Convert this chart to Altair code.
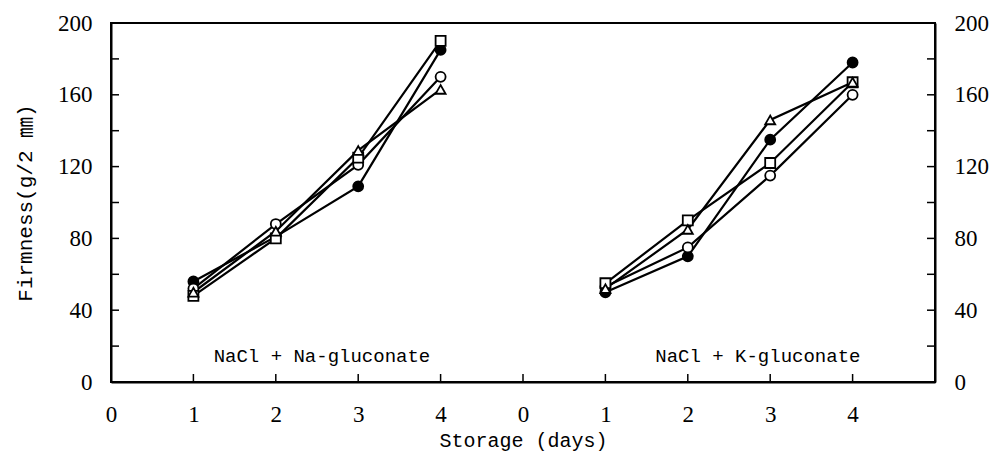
import altair as alt
import pandas as pd

# ---- data ----
days = [1, 2, 3, 4]
groups = ["NaCl + Na-gluconate", "NaCl + K-gluconate"]
series = ["filled circle", "open circle", "open square", "open triangle"]

na_values = {
    "filled circle": [56, 81, 109, 185],
    "open circle": [52, 88, 121, 170],
    "open square": [48, 80, 125, 190],
    "open triangle": [50, 84, 129, 163],
}
k_values = {
    "filled circle": [50, 70, 135, 178],
    "open circle": [53, 75, 115, 160],
    "open square": [55, 90, 122, 167],
    "open triangle": [52, 85, 146, 167],
}

x_ticks = [0, 1, 2, 3, 4, 5, 6, 7, 8, 9]
y_labels = [0, 40, 80, 120, 160, 200]
y_minor = [20, 40, 60, 80, 100, 120, 140, 160, 180]
x_inner_ticks = [1, 2, 3, 4, 5, 6, 7, 8, 9]
group_offset = [0, 5]

annot_text = ["NaCl + Na-gluconate", "NaCl + K-gluconate"]
annot_x = [2.56, 7.85]
annot_y = [11, 11]

rows = []
for g, vals, off in [(groups[0], na_values, group_offset[0]), (groups[1], k_values, group_offset[1])]:
    for s in series:
        for d, v in zip(days, vals[s]):
            rows.append({"group": g, "series": s, "key": g + s, "x": d + off, "value": v})
df = pd.DataFrame(rows)

W, H = 824, 359
FONT_TXT = "Liberation Mono, Noto Sans CJK JP"
FONT_NUM = "Liberation Serif"

xscale = alt.Scale(domain=[0, 10], nice=False, zero=False)
yscale = alt.Scale(domain=[0, 200], nice=False)

x_axis = alt.Axis(
    values=x_ticks,
    labelExpr="datum.value < 5 ? datum.value : datum.value - 5",
    ticks=False, grid=False, labelPadding=21, labelFlush=False,
    labelFont=FONT_NUM, labelFontSize=23, labelColor="black",
    title="Storage (days)", titleFont=FONT_TXT, titleFontSize=20,
    titleFontWeight="normal", titleColor="black", titlePadding=4,
    domainColor="black", domainWidth=2,
)
y_axis_left = alt.Axis(
    values=y_labels, ticks=False, grid=False, labelPadding=19,
    labelFont=FONT_NUM, labelFontSize=23, labelColor="black",
    title="Firmness(g/2 ㎜)", titleFont=FONT_TXT, titleFontSize=21,
    titleFontWeight="normal", titleColor="black",
    titleX=-86, titleY=H / 2, titleAngle=-90, titleAlign="center", titleBaseline="middle",
    domainColor="black", domainWidth=2,
)
y_axis_right = alt.Axis(
    orient="right", values=y_labels, ticks=False, grid=False, labelPadding=19,
    labelFont=FONT_NUM, labelFontSize=23, labelColor="black", title=None,
    domainColor="black", domainWidth=2,
)

lines = alt.Chart(df).mark_line(color="black", strokeWidth=2.2).encode(
    x=alt.X("x:Q", scale=xscale, axis=x_axis),
    y=alt.Y("value:Q", scale=yscale, axis=y_axis_left),
    detail="key:N",
)

points = alt.Chart(df).mark_point(filled=True, stroke="black", strokeWidth=1.8, opacity=1).encode(
    x=alt.X("x:Q", scale=xscale),
    y=alt.Y("value:Q", scale=yscale, axis=None),
    shape=alt.Shape("series:N", scale=alt.Scale(domain=series, range=["circle", "circle", "square", "triangle-up"]), legend=None),
    fill=alt.Fill("series:N", scale=alt.Scale(domain=series, range=["black", "white", "white", "white"]), legend=None),
    size=alt.value(100),
)

ymin_df = pd.DataFrame({"v": y_minor})
left_ticks = alt.Chart(ymin_df).mark_rule(color="black", strokeWidth=1.5).encode(
    x=alt.value(0), x2=alt.value(8),
    y=alt.Y("v:Q", scale=yscale, axis=None),
)
right_ticks = alt.Chart(ymin_df).mark_rule(color="black", strokeWidth=1.5).encode(
    x=alt.value(W - 8), x2=alt.value(W),
    y=alt.Y("v:Q", scale=yscale, axis=y_axis_right),
)
xt_df = pd.DataFrame({"d": x_inner_ticks})
bottom_ticks = alt.Chart(xt_df).mark_rule(color="black", strokeWidth=1.5).encode(
    x=alt.X("d:Q", scale=xscale),
    y=alt.value(H), y2=alt.value(H - 8),
)

ann_df = pd.DataFrame({"t": annot_text, "x": annot_x, "y": annot_y})
labels = alt.Chart(ann_df).mark_text(font=FONT_TXT, fontSize=19, color="black", baseline="alphabetic", align="center").encode(
    x=alt.X("x:Q", scale=xscale),
    y=alt.Y("y:Q", scale=yscale, axis=None),
    text="t:N",
)

chart = alt.layer(lines, points, left_ticks, bottom_ticks, labels, right_ticks).resolve_scale(
    y="independent"
).properties(
    width=W, height=H,
    autosize=alt.AutoSizeParams(type="none"),
    padding={"left": 111, "top": 23, "right": 55, "bottom": 72},
    background="white",
).configure_view(stroke="black", strokeWidth=2)

chart.save("out.html", embed_options={"renderer": "svg", "actions": False})
